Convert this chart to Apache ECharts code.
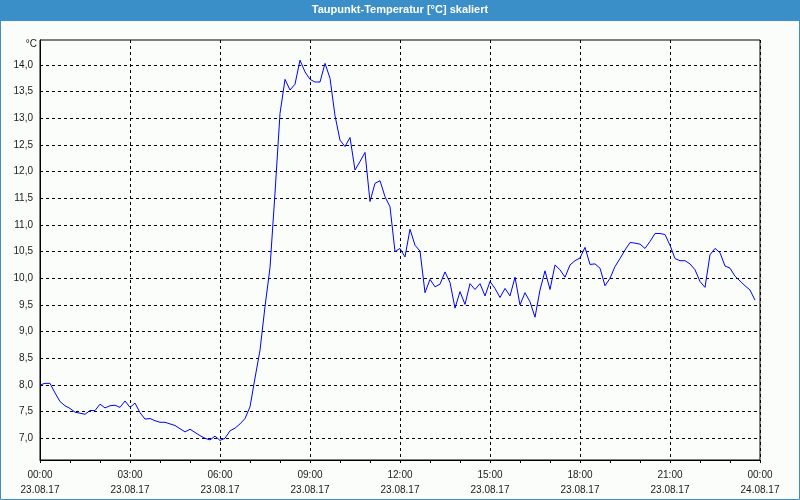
<!DOCTYPE html>
<html>
<head>
<meta charset="utf-8">
<script src="https://cdn.jsdelivr.net/npm/echarts@6/dist/echarts.min.js"></script>
<style>
html,body{margin:0;padding:0;background:#fbfdfb;}
#chart{width:800px;height:500px;}
</style>
</head>
<body>
<div id="chart"></div>
<script>
// Dew point values, one reading every 10 minutes starting 23.08.17 00:00
const values = [
  8.00, 8.03, 8.03, 7.85, 7.69, 7.61, 7.56, 7.49, 7.47, 7.45, 7.52, 7.52,
  7.64, 7.57, 7.61, 7.62, 7.58, 7.70, 7.58, 7.66, 7.48, 7.36, 7.37, 7.33,
  7.30, 7.30, 7.27, 7.24, 7.18, 7.12, 7.17, 7.11, 7.05, 7.00, 6.97, 7.04,
  6.96, 7.00, 7.14, 7.19, 7.27, 7.37, 7.59, 8.13, 8.65, 9.47, 10.20, 11.60,
  13.09, 13.73, 13.53, 13.64, 14.09, 13.87, 13.73, 13.68, 13.68, 14.03, 13.75, 13.05,
  12.59, 12.47, 12.64, 12.03, 12.19, 12.36, 11.44, 11.78, 11.83, 11.53, 11.34, 10.50,
  10.56, 10.40, 10.92, 10.62, 10.51, 9.73, 9.98, 9.84, 9.89, 10.12, 9.92, 9.44,
  9.75, 9.51, 9.90, 9.79, 9.90, 9.67, 9.94, 9.81, 9.64, 9.81, 9.67, 10.02,
  9.50, 9.73, 9.56, 9.27, 9.78, 10.14, 9.79, 10.25, 10.16, 10.02, 10.25, 10.33,
  10.38, 10.58, 10.26, 10.27, 10.19, 9.86, 10.00, 10.22, 10.37, 10.53, 10.67, 10.66,
  10.64, 10.56, 10.69, 10.84, 10.84, 10.82, 10.62, 10.37, 10.33, 10.33, 10.27, 10.16,
  9.94, 9.83, 10.44, 10.56, 10.48, 10.23, 10.19, 10.04, 9.95, 9.86, 9.78, 9.59
];
const stepMinutes = 10;
const yTicks = [7.0, 7.5, 8.0, 8.5, 9.0, 9.5, 10.0, 10.5, 11.0, 11.5, 12.0, 12.5, 13.0, 13.5, 14.0];
const xTimeLabels = ['00:00', '03:00', '06:00', '09:00', '12:00', '15:00', '18:00', '21:00', '00:00'];
const xDateLabels = ['23.08.17', '23.08.17', '23.08.17', '23.08.17', '23.08.17', '23.08.17', '23.08.17', '23.08.17', '24.08.17'];

const seriesData = values.map((v, i) => [i * stepMinutes, v]);
const font = 'Liberation Sans';
const blue = '#3b8fc8';

const chart = echarts.init(document.getElementById('chart'));
chart.setOption({
  animation: false,
  backgroundColor: '#fbfdfb',
  title: {
    text: 'Taupunkt-Temperatur [°C] skaliert',
    left: 'center',
    top: 4,
    padding: 0,
    textStyle: { color: '#ffffff', fontSize: 11, fontWeight: 'bold', fontFamily: font }
  },
  graphic: [
    { type: 'rect', z: -1, shape: { x: 0, y: 0, width: 800, height: 21 }, style: { fill: blue } },
    { type: 'rect', z: -1, shape: { x: 0.5, y: 0.5, width: 799, height: 499 }, style: { fill: 'none', stroke: blue, lineWidth: 1 } }
  ],
  grid: {
    left: 40, right: 40, top: 40, bottom: 40,
    show: true, borderColor: '#000', borderWidth: 1, backgroundColor: 'transparent'
  },
  xAxis: {
    type: 'value',
    min: 0, max: 1440, interval: 180,
    axisLine: { show: true, lineStyle: { color: '#000', width: 1 } },
    axisTick: { show: true, length: 3, lineStyle: { color: '#000' } },
    minorTick: { show: true, splitNumber: 3, length: 3, lineStyle: { color: '#000' } },
    splitLine: { show: true, lineStyle: { color: '#000', type: [3, 3], width: 1 } },
    axisLabel: {
      margin: 8,
      color: '#1a1a1a',
      fontSize: 10,
      fontFamily: font,
      lineHeight: 15,
      showMinLabel: true, showMaxLabel: true,
      formatter: function (v) {
        const k = Math.round(v / 180);
        return xTimeLabels[k] + '\n' + xDateLabels[k];
      }
    }
  },
  yAxis: {
    type: 'value',
    min: 6.593, max: 14.468,
    name: '°C',
    nameLocation: 'end',
    nameGap: -4,
    nameTextStyle: { color: '#1a1a1a', fontSize: 10, fontFamily: font, align: 'right', verticalAlign: 'middle', padding: [0, 3, 0, 0] },
    axisLine: { show: true, lineStyle: { color: '#000', width: 1 } },
    axisTick: { show: true, length: 0, customValues: yTicks },
    splitLine: { show: true, lineStyle: { color: '#000', type: [3, 3], width: 1 } },
    axisLabel: {
      customValues: yTicks,
      margin: 7,
      color: '#1a1a1a',
      fontSize: 10,
      fontFamily: font,
      formatter: function (v) { return v.toFixed(1).replace('.', ','); }
    }
  },
  series: [{
    type: 'line',
    data: seriesData,
    showSymbol: false,
    symbol: 'none',
    lineStyle: { color: '#0000ff', width: 1 },
    itemStyle: { color: '#0000ff' }
  }]
});
</script>
</body>
</html>
